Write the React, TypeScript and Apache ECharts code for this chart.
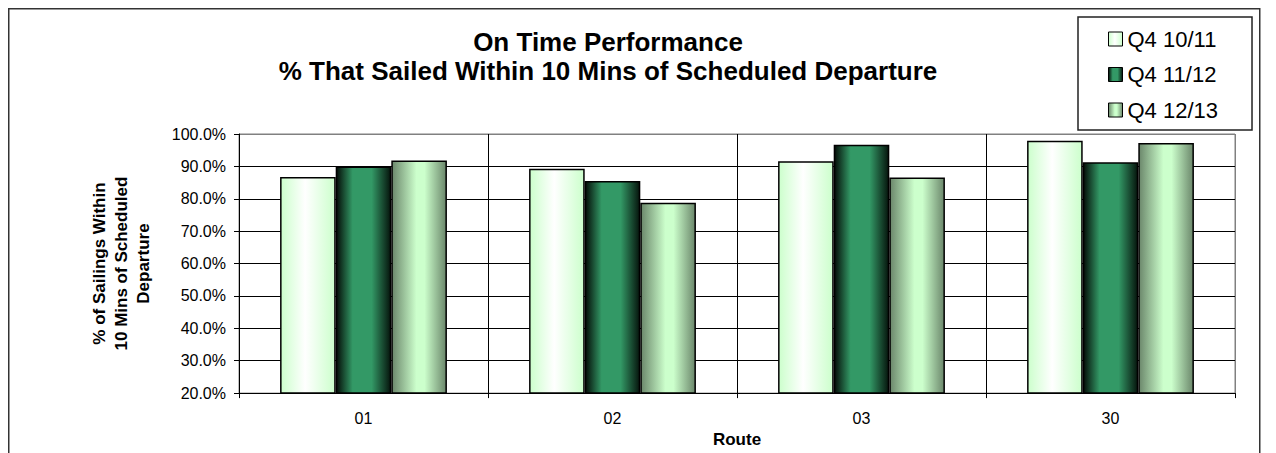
import React, { useEffect, useRef } from "react";
import * as echarts from "echarts";

const categories = ["01", "02", "03", "30"];
const seriesNames = ["Q4 10/11", "Q4 11/12", "Q4 12/13"];
const q4_1011 = [86.7, 89.3, 91.6, 97.9];
const q4_1112 = [90.0, 85.5, 96.7, 91.3];
const q4_1213 = [91.8, 78.8, 86.6, 97.2];
const yMin = 20;
const yMax = 100;
const yStep = 10;

const titleLine1 = "On Time Performance";
const titleLine2 = "% That Sailed Within 10 Mins of Scheduled Departure";
const yAxisName = "% of Sailings Within\n10 Mins of Scheduled\nDeparture";
const xAxisName = "Route";

const FONT = "'Liberation Sans', Arial, Helvetica, sans-serif";

export default function App() {
  const ref = useRef<HTMLDivElement>(null);

  useEffect(() => {
    if (!ref.current) return;
    const chart = echarts.init(ref.current, undefined, { renderer: "svg" });

    const grad = (stops: [number, string][]) =>
      new echarts.graphic.LinearGradient(
        0,
        0,
        1,
        0,
        stops.map(([offset, color]) => ({ offset, color }))
      );

    const fills = [
      grad([
        [0, "#ccffcc"],
        [0.45, "#ffffff"],
        [1, "#ccffcc"],
      ]),
      grad([
        [0, "#040c07"],
        [0.3, "#339966"],
        [0.65, "#339966"],
        [1, "#06150d"],
      ]),
      grad([
        [0, "#6b876b"],
        [0.45, "#ccffcc"],
        [0.6, "#ccffcc"],
        [1, "#6b876b"],
      ]),
    ];
    const dataSets = [q4_1011, q4_1112, q4_1213];

    const ySplitColors = Array.from(
      { length: (yMax - yMin) / yStep + 1 },
      (_, i) => (i === (yMax - yMin) / yStep ? "#808080" : "#000000")
    );
    const xSplitColors = categories
      .map(() => "#000000")
      .concat(["#808080"]);

    chart.setOption({
      animation: false,
      backgroundColor: "#ffffff",
      textStyle: { fontFamily: FONT },
      grid: {
        left: 231,
        top: 126,
        width: 996,
        height: 261,
        show: true,
        borderColor: "#808080",
        borderWidth: 1,
        backgroundColor: "transparent",
      },
      legend: {
        orient: "vertical",
        left: 1070,
        top: 9,
        padding: [11, 34, 9, 30],
        itemGap: 13.5,
        itemWidth: 14,
        itemHeight: 14,
        icon: "rect",
        backgroundColor: "#ffffff",
        borderColor: "#222222",
        borderWidth: 1.5,
        borderRadius: 0,
        textStyle: {
          fontFamily: FONT,
          fontSize: 22,
          color: "#000000",
          lineHeight: 22,
        },
        itemStyle: { borderColor: "#000000", borderWidth: 1 },
        data: seriesNames,
      },
      xAxis: {
        type: "category",
        data: categories,
        boundaryGap: true,
        name: xAxisName,
        nameLocation: "middle",
        nameGap: 36,
        nameTextStyle: {
          fontFamily: FONT,
          fontSize: 17,
          fontWeight: "bold",
          color: "#000000",
        },
        axisLine: { show: true, lineStyle: { color: "#000000", width: 1 } },
        axisTick: {
          show: true,
          alignWithLabel: false,
          length: 5,
          lineStyle: { color: "#000000" },
        },
        axisLabel: {
          fontFamily: FONT,
          fontSize: 16,
          color: "#000000",
          margin: 17,
        },
        splitLine: {
          show: true,
          lineStyle: { color: xSplitColors, width: 1 },
        },
      },
      yAxis: {
        type: "value",
        min: yMin,
        max: yMax,
        interval: yStep,
        name: yAxisName,
        nameLocation: "middle",
        nameRotate: 90,
        nameGap: 85,
        nameTextStyle: {
          fontFamily: FONT,
          fontSize: 17,
          fontWeight: "bold",
          color: "#000000",
          lineHeight: 22,
          align: "center",
        },
        axisLine: { show: true, lineStyle: { color: "#000000", width: 1 } },
        axisTick: { show: true, length: 5, lineStyle: { color: "#000000" } },
        axisLabel: {
          fontFamily: FONT,
          fontSize: 16,
          color: "#000000",
          margin: 13,
          formatter: (v: number) => v.toFixed(1) + "%",
        },
        splitLine: {
          show: true,
          lineStyle: { color: ySplitColors, width: 1 },
        },
      },
      series: seriesNames.map((name, i) => ({
        name,
        type: "bar",
        data: dataSets[i],
        barGap: "0%",
        barCategoryGap: "33%",
        itemStyle: {
          color: fills[i],
          borderColor: "#000000",
          borderWidth: 1.5,
        },
      })),
      graphic: [
        {
          type: "rect",
          silent: true,
          z: 100,
          shape: { x: 0.75, y: 0.75, width: 1251, height: 470 },
          style: { fill: "none", stroke: "#333333", lineWidth: 1.5 },
        },
        {
          type: "text",
          x: 600,
          y: 34,
          style: {
            text: titleLine1,
            font: `bold 26px ${FONT}`,
            fill: "#000000",
            textAlign: "center",
            textVerticalAlign: "middle",
          },
        },
        {
          type: "text",
          x: 600,
          y: 63,
          style: {
            text: titleLine2,
            font: `bold 26px ${FONT}`,
            fill: "#000000",
            textAlign: "center",
            textVerticalAlign: "middle",
          },
        },
      ],
    });

    return () => chart.dispose();
  }, []);

  return <div ref={ref} style={{ width: 1253, height: 445 }} />;
}
